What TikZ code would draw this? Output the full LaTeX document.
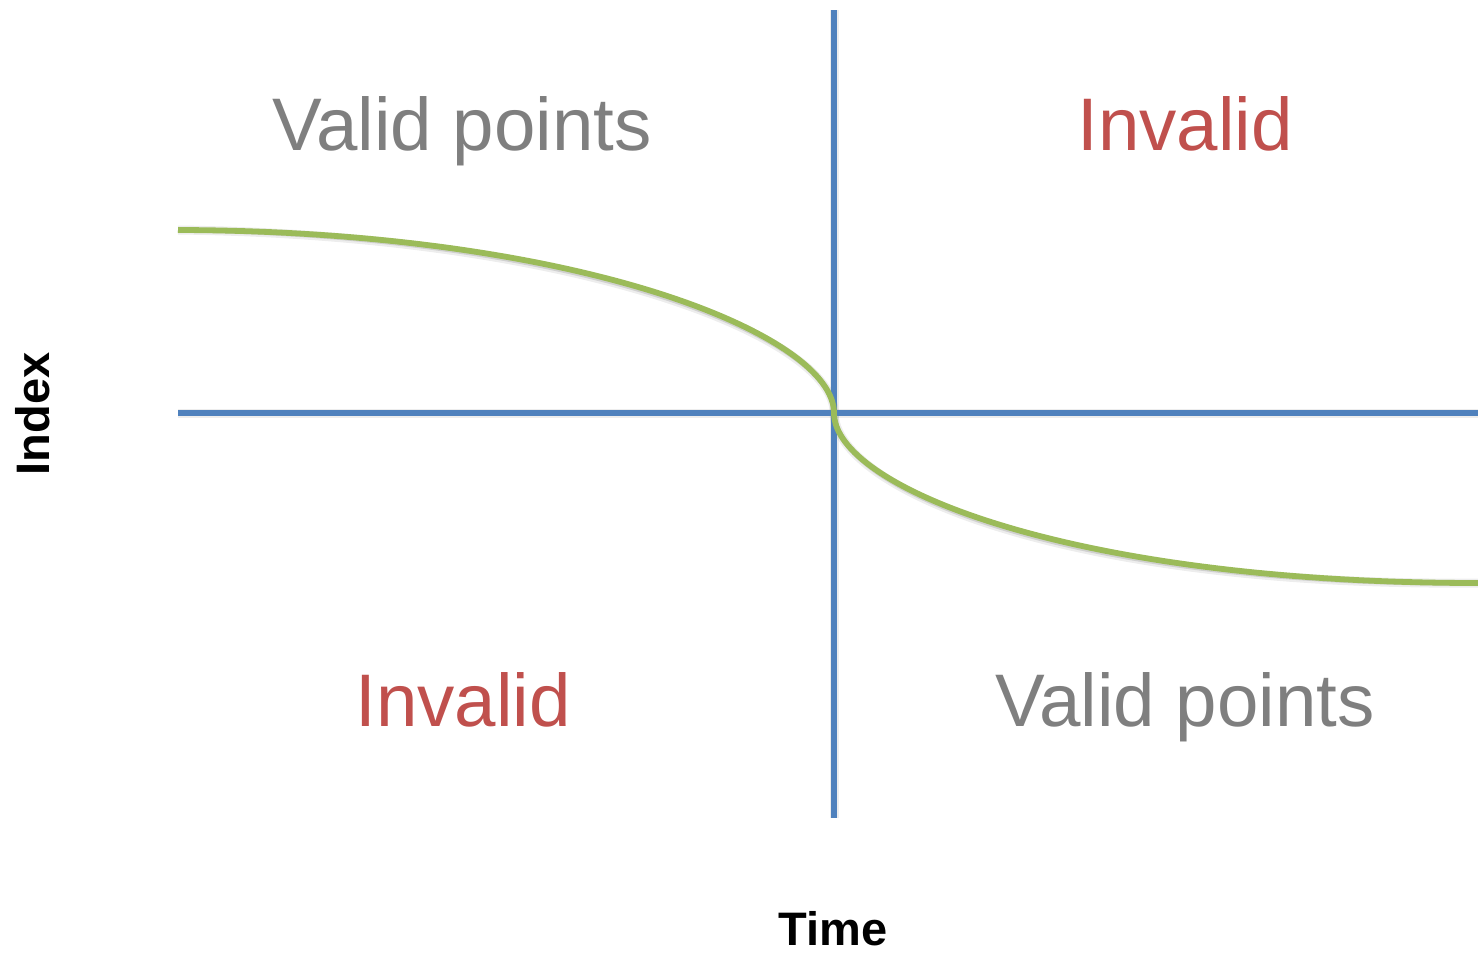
\documentclass[tikz,border=0pt]{standalone}
\usepackage{fontspec}
\setmainfont{Liberation Sans}
\definecolor{axisblue}{HTML}{4F81BD}
\definecolor{curvegreen}{HTML}{9BBB59}
\definecolor{badred}{HTML}{C0504D}
\definecolor{okgray}{HTML}{7F7F7F}
\begin{document}
\begin{tikzpicture}[x=1pt,y=-1pt,
  axis/.style={draw=axisblue,line width=5.3pt},
  curve/.style={draw=curvegreen,line width=5.8pt},
  shade/.style={draw=black,line width=9pt,opacity=0.07,shift={(2,4)}},
  shadeb/.style={draw=black,line width=5pt,opacity=0.12,shift={(1.5,3.5)}},
  region/.style={font=\fontsize{74.5}{74.5}\selectfont,anchor=base},
  axislabel/.style={font=\fontsize{47}{47}\selectfont\bfseries,text=black,inner sep=0pt}]
\useasboundingbox (0,0) rectangle (1478,953);
% axis end points and the curve's anchor points
\coordinate (vtop) at (834,10);
\coordinate (vbot) at (834,818);
\coordinate (hleft) at (178,413);
\coordinate (hright) at (1478,413);
\coordinate (cstart) at (178,230);
\coordinate (cmid) at (834,413);
\coordinate (cend) at (1478,583);
% soft drop shadows
\foreach \s in {shade,shadeb}{
  \draw[\s] (vtop) -- (vbot);
  \draw[\s] (hleft) -- (hright);
  \draw[\s] (cstart) .. controls (580,231) and (834,335) .. (cmid)
        .. controls (834,487) and (1070,583) .. (cend);
}
% axes
\draw[axis] (vtop) -- (vbot);
\draw[axis] (hleft) -- (hright);
% boundary curve
\draw[curve] (cstart) .. controls (580,231) and (834,335) .. (cmid)
      .. controls (834,487) and (1070,583) .. (cend);
% region labels
\node[region,text=okgray] (tl) at (462,150) {Valid points};
\node[region,text=badred] (tr) at (1185,150) {Invalid};
\node[region,text=badred] (bl) at (463,726) {Invalid};
\node[region,text=okgray] (br) at (1185,726) {Valid points};
% axis titles
\node[axislabel,rotate=90] (ylab) at (33,414) {Index};
\node[axislabel] (xlab) at (833,929) {Time};
\end{tikzpicture}
\end{document}
